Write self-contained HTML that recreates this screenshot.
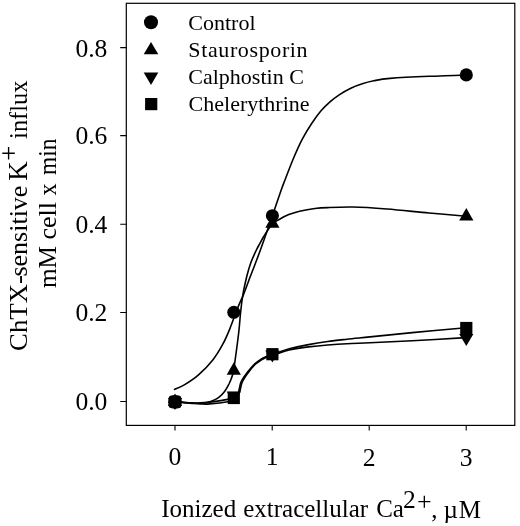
<!DOCTYPE html>
<html><head><meta charset="utf-8"><title>Chart</title>
<style>
html,body{margin:0;padding:0;background:#fff;}
svg{display:block;}
text{font-family:"Liberation Serif","DejaVu Serif",serif;fill:#000;}
</style></head><body>
<svg width="520" height="526" viewBox="0 0 520 526">
<rect x="0" y="0" width="520" height="526" fill="#fff"/>
<rect x="126.3" y="3.3" width="388.5" height="422.1" fill="none" stroke="#000" stroke-width="1.2"/>
<g stroke="#000" stroke-width="1.1" fill="none">
<path d="M120.2 47.6H126.3M120.2 135.6H126.3M120.2 224.3H126.3M120.2 312.5H126.3M120.2 401.5H126.3"/>
<path d="M175 425.4V430.6M272.2 425.4V430.6M369.2 425.4V430.6M466.2 425.4V430.6"/>
</g>
<g fill="none" stroke="#000" stroke-width="1.6" stroke-linecap="round" stroke-linejoin="round">
<path d="M174.5 389.5C176.1 388.7 180.3 387.3 184.3 384.9C188.3 382.5 193.8 379.1 198.5 374.9C203.2 370.7 208.8 365.0 212.8 359.9C216.9 354.8 220.0 349.4 222.8 344.2C225.7 339.0 227.4 334.8 229.9 328.6C232.4 322.4 235.8 312.6 238.1 306.9C240.4 301.2 241.4 299.7 243.5 294.6C245.6 289.5 248.3 281.6 250.4 276.2C252.5 270.8 254.1 266.7 255.8 262.3C257.5 257.9 258.9 254.0 260.4 250.0C261.8 246.0 262.5 244.2 264.5 238.5C266.5 232.8 269.6 223.9 272.4 215.8C275.2 207.7 279.1 196.0 281.2 190.0C283.3 184.0 283.0 185.1 285.0 180.0C287.0 174.9 290.2 166.0 293.1 159.2C296.0 152.4 299.2 145.1 302.3 139.2C305.4 133.3 308.4 128.5 311.5 123.8C314.6 119.1 317.7 114.8 320.8 111.1C323.9 107.4 326.9 104.6 330.0 101.9C333.1 99.2 335.7 97.2 339.2 94.9C342.7 92.6 346.9 90.2 350.8 88.3C354.7 86.4 358.5 85.0 362.3 83.8C366.1 82.5 369.2 81.7 373.8 80.8C378.4 79.9 380.8 79.2 390.0 78.4C399.2 77.7 420.0 76.7 429.2 76.3C438.4 75.9 438.8 76.0 445.0 75.8C451.2 75.6 462.8 75.1 466.4 75.0"/>
<path d="M175.0 401.8C177.5 402.0 185.8 402.7 190.0 402.9C194.2 403.1 197.6 403.3 200.4 403.2C203.2 403.1 205.1 402.9 207.0 402.5C208.9 402.1 210.0 401.9 212.0 401.0C214.0 400.1 216.7 398.9 218.8 397.3C220.9 395.7 222.9 393.8 224.6 391.5C226.3 389.2 228.0 385.8 229.2 383.5C230.3 381.2 230.8 380.1 231.5 378.0C232.2 375.9 232.7 375.5 233.5 370.8C234.3 366.1 235.6 356.8 236.5 350.0C237.4 343.2 238.3 336.4 239.0 330.0C239.7 323.6 240.0 317.4 240.7 311.5C241.3 305.6 241.9 300.5 242.9 294.6C243.9 288.7 245.5 281.6 246.8 276.2C248.2 270.8 249.4 266.7 251.0 262.3C252.6 257.9 254.9 253.2 256.4 250.0C257.9 246.8 258.9 245.3 260.1 243.0C261.4 240.7 261.8 239.4 263.9 236.2C265.9 233.0 269.8 226.8 272.4 224.0C275.0 221.2 276.9 220.8 279.6 219.2C282.3 217.6 285.5 215.9 288.8 214.6C292.1 213.3 295.2 212.2 299.6 211.2C304.0 210.2 310.3 209.1 315.0 208.5C319.7 207.9 321.4 207.8 327.7 207.6C334.0 207.3 343.1 206.8 353.0 207.0C362.9 207.2 374.3 208.0 387.0 209.0C399.7 210.0 415.8 211.8 429.0 213.0C442.2 214.2 460.1 215.7 466.3 216.2"/>
<path d="M175.0 401.8C177.5 401.9 185.8 402.5 190.0 402.7C194.2 402.9 196.7 403.0 200.0 402.9C203.3 402.8 205.0 402.7 209.6 402.1C214.2 401.5 223.7 400.2 227.8 399.4C231.9 398.6 232.2 398.7 234.0 397.5C235.8 396.3 237.2 394.8 238.4 392.3C239.6 389.8 239.5 385.5 240.9 382.3C242.3 379.1 244.5 376.2 246.8 373.1C249.1 370.0 252.4 366.1 254.8 363.8C257.2 361.5 259.1 360.4 261.0 359.2C262.9 358.0 264.1 357.5 266.0 356.7C267.9 355.9 270.4 355.0 272.3 354.3C274.2 353.6 274.9 353.6 277.7 352.7C280.5 351.8 284.1 350.1 289.2 348.8C294.3 347.5 302.1 345.8 308.5 344.6C314.9 343.4 321.3 342.4 327.7 341.5C334.1 340.6 339.8 340.0 346.9 339.2C353.9 338.4 359.1 338.0 370.0 336.9C380.9 335.8 396.3 334.1 412.3 332.6C428.3 331.1 457.1 328.6 466.0 327.8"/>
<path d="M175.0 401.8C177.5 402.0 185.8 402.9 190.0 403.2C194.2 403.5 196.7 403.8 200.0 403.9C203.3 404.0 205.0 404.3 209.6 403.9C214.2 403.5 223.7 402.4 227.8 401.7C231.9 401.0 232.1 400.9 234.0 399.5C235.9 398.1 238.0 395.8 239.3 393.0C240.6 390.2 240.6 385.9 242.0 382.6C243.4 379.4 245.4 376.6 247.6 373.5C249.8 370.4 253.0 366.6 255.3 364.3C257.6 362.0 259.6 361.0 261.5 359.8C263.4 358.6 264.6 358.1 266.4 357.3C268.2 356.5 270.4 355.7 272.3 355.1C274.2 354.5 274.9 354.5 277.7 353.6C280.5 352.8 284.1 351.1 289.2 350.0C294.3 348.9 302.1 347.7 308.5 346.9C314.9 346.1 321.3 345.5 327.7 345.0C334.1 344.5 339.8 344.1 346.9 343.7C353.9 343.3 359.1 343.2 370.0 342.7C380.9 342.2 396.3 341.5 412.3 340.7C428.3 339.9 457.1 338.1 466.0 337.6"/>
</g>
<g fill="#000" stroke="none">
<circle cx="175.0" cy="401.9" r="6.90"/>
<circle cx="233.8" cy="312.3" r="6.55"/>
<circle cx="272.4" cy="215.7" r="6.55"/>
<circle cx="466.3" cy="74.9" r="6.55"/>
<path d="M175.0 393.6L182.1 406.0L167.9 406.0Z"/>
<path d="M233.8 362.3L240.9 374.7L226.7 374.7Z"/>
<path d="M272.4 215.3L279.5 227.7L265.3 227.7Z"/>
<path d="M466.3 208.1L473.4 220.5L459.2 220.5Z"/>
<path d="M167.9 397.9L182.1 397.9L175.0 409.9Z"/>
<path d="M226.7 391.5L240.9 391.5L233.8 403.5Z"/>
<path d="M265.3 350.6L279.5 350.6L272.4 362.6Z"/>
<path d="M459.2 334.0L473.4 334.0L466.3 346.0Z"/>
<rect x="168.7" y="395.6" width="12.6" height="12.6" rx="3.0"/>
<rect x="227.7" y="391.9" width="12.2" height="12.2" rx="0.0"/>
<rect x="266.3" y="348.1" width="12.2" height="12.2" rx="0.0"/>
<rect x="460.2" y="321.9" width="12.2" height="12.2" rx="0.0"/>
</g>
<g fill="#000" stroke="none">
<circle cx="151.0" cy="22.2" r="7.00"/>
<path d="M151.0 41.9L158.3 54.3L143.7 54.3Z"/>
<path d="M143.7 72.5L158.3 72.5L151.0 84.9Z"/>
<rect x="145.1" y="98.0" width="12.2" height="12.2" rx="0.0"/>
</g>
<g font-size="22px">
<text x="188.3" y="29.6">Control</text>
<text x="188.3" y="57.2" textLength="119.3">Staurosporin</text>
<text x="188.3" y="83.8">Calphostin C</text>
<text x="188.6" y="111.2">Chelerythrine</text>
</g>
<g font-size="25.6px" text-anchor="end">
<text x="107.4" y="56.6">0.8</text>
<text x="107.4" y="143.8">0.6</text>
<text x="107.4" y="233.3">0.4</text>
<text x="107.4" y="320.7">0.2</text>
<text x="107.4" y="410.3">0.0</text>
</g>
<g font-size="25.6px" text-anchor="middle">
<text x="175" y="465">0</text>
<text x="272.2" y="465.4">1</text>
<text x="369.2" y="465.9">2</text>
<text x="466.2" y="466.3">3</text>
</g>
<text font-size="25px" y="517"><tspan x="161.2">Ionized</tspan> <tspan x="243.2">extracellular</tspan> <tspan x="376.2">Ca</tspan><tspan x="403.1" dy="-8.7" font-size="25.5px">2</tspan><tspan x="416.9" dy="2" font-size="26px">+</tspan><tspan x="431.3" dy="7.5">,</tspan> <tspan x="443.6">µ</tspan><tspan x="458.7">M</tspan></text>
<g transform="translate(26.7 0) rotate(-90)">
<text font-size="26px" y="0"><tspan x="-350.9" textLength="75.8" lengthAdjust="spacingAndGlyphs">ChTX-</tspan><tspan x="-276.6">sensitive</tspan></text>
<text font-size="27px" x="-180.7" y="0">K</text>
<text font-size="26.5px" x="-160.7" y="-9.1">+</text>
<text font-size="24.4px" x="-138.9" y="0">influx</text>
</g>
<g transform="translate(56 0) rotate(-90)" font-size="25px">
<text x="-288" y="0" textLength="42" lengthAdjust="spacingAndGlyphs">mM</text>
<text x="-239.5" y="0" textLength="37.6" lengthAdjust="spacingAndGlyphs">cell</text>
<text x="-195.4" y="0" textLength="12" lengthAdjust="spacingAndGlyphs">x</text>
<text x="-175" y="0" textLength="36.4" lengthAdjust="spacingAndGlyphs">min</text>
</g>
</svg>
</body></html>
